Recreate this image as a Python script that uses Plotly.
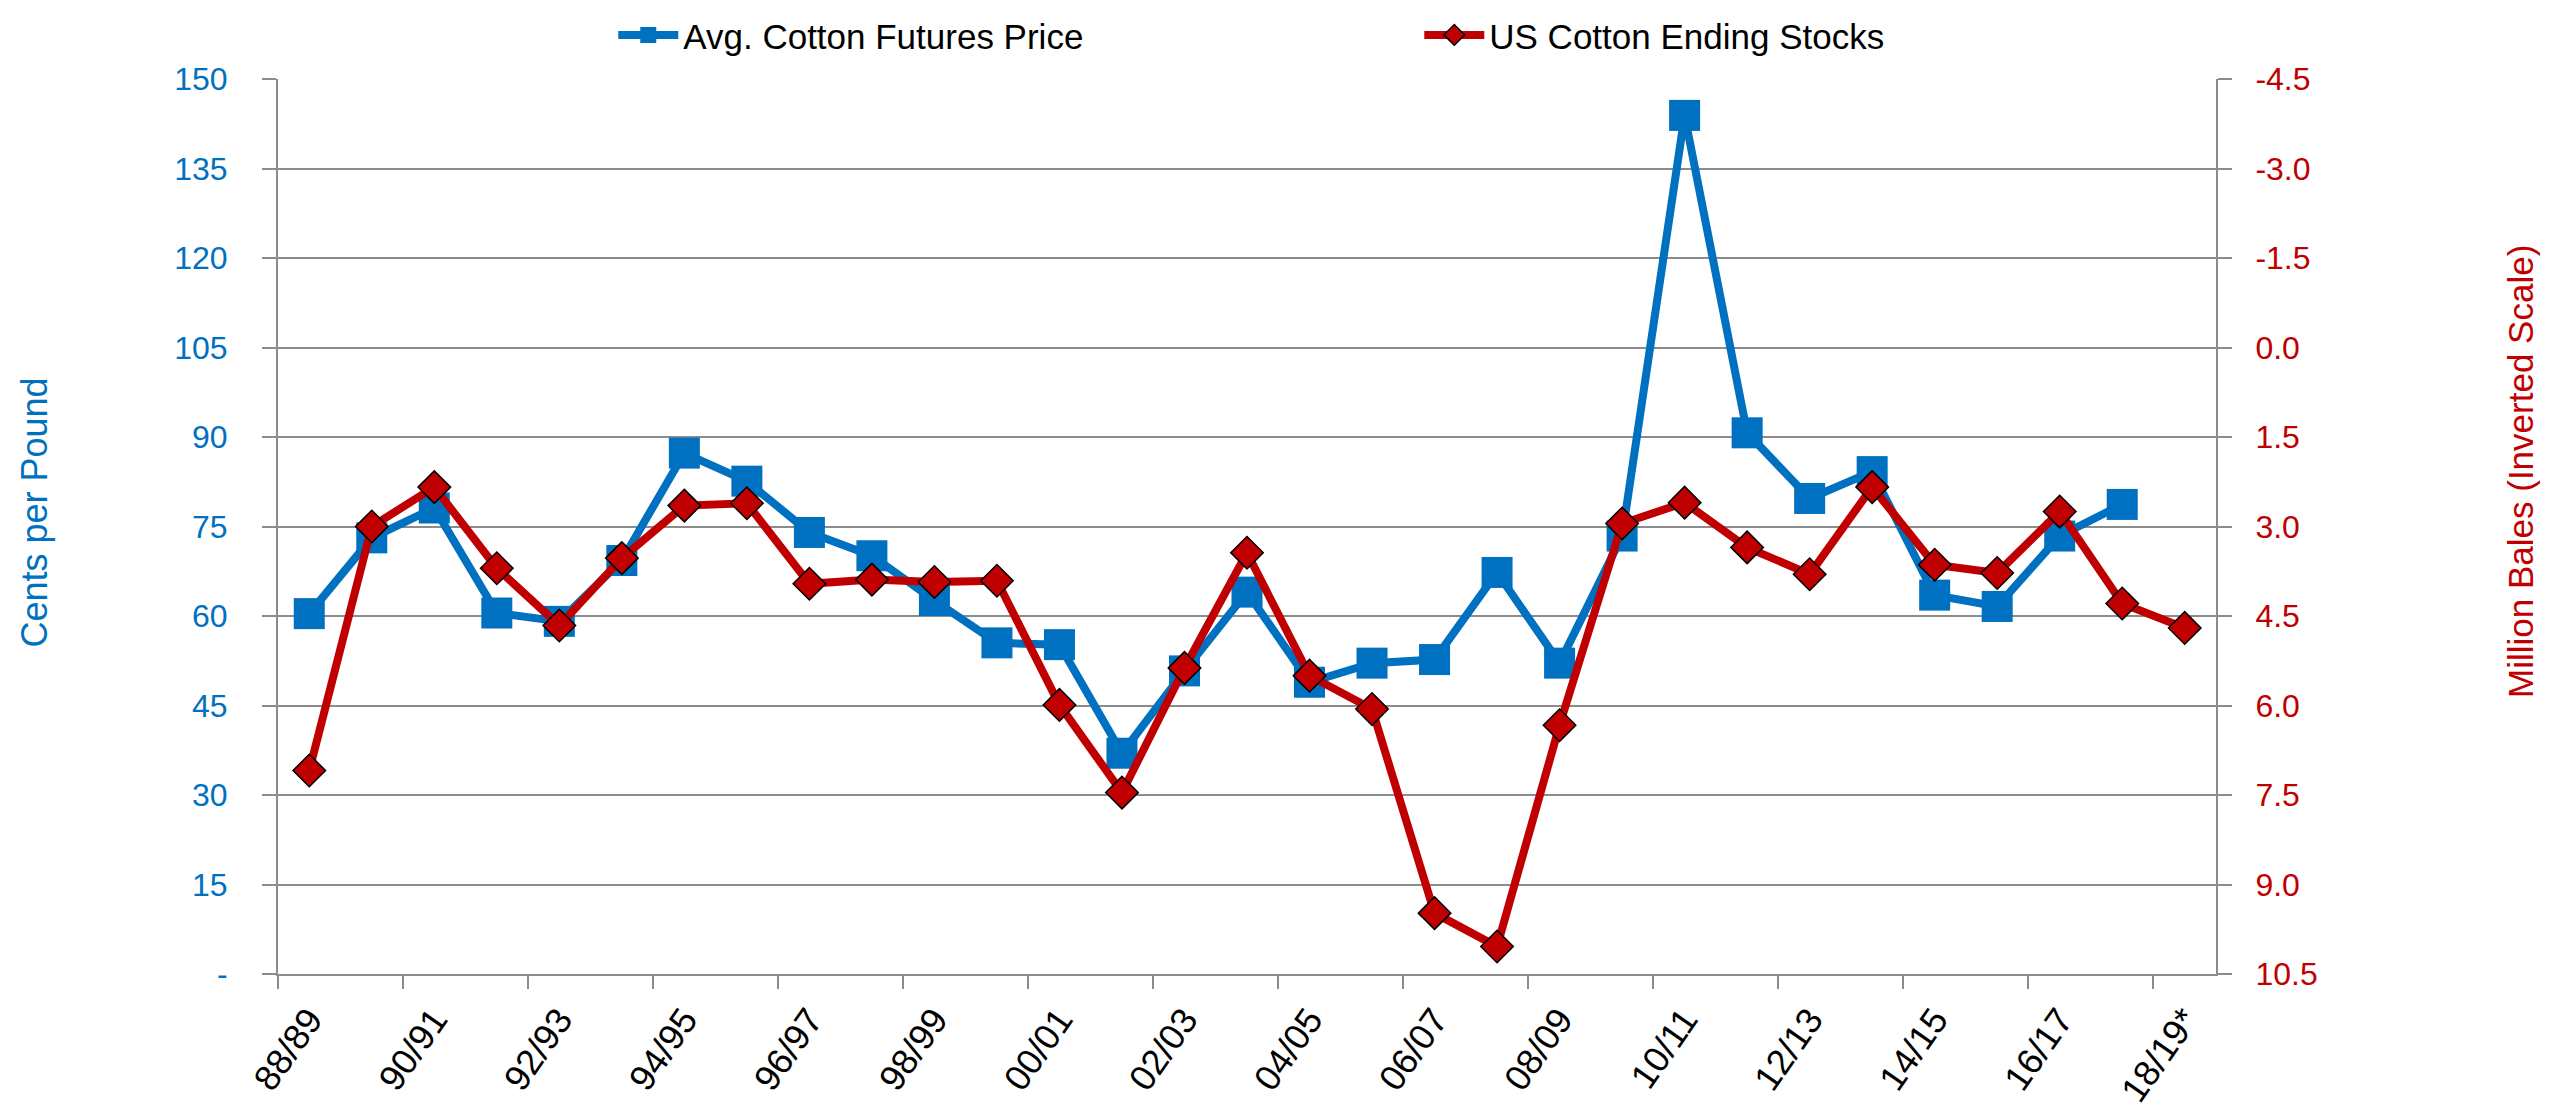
import plotly.graph_objects as go

categories = ["88/89", "89/90", "90/91", "91/92", "92/93", "93/94", "94/95", "95/96",
              "96/97", "97/98", "98/99", "99/00", "00/01", "01/02", "02/03", "03/04",
              "04/05", "05/06", "06/07", "07/08", "08/09", "09/10", "10/11", "11/12",
              "12/13", "13/14", "14/15", "15/16", "16/17", "17/18", "18/19*"]

futures_price = [60.4, 73.1, 78.1, 60.5, 59.1, 69.3, 87.3, 82.6, 74.0, 70.1, 62.6, 55.5,
                 55.2, 37.0, 50.8, 64.0, 48.9, 52.1, 52.7, 67.3, 52.1, 73.4, 143.9, 90.7,
                 79.7, 84.2, 63.5, 61.6, 73.4, 78.7, None]

ending_stocks = [7.09, 3.00, 2.34, 3.70, 4.66, 3.53, 2.65, 2.61, 3.96, 3.89, 3.93, 3.91,
                 5.99, 7.46, 5.37, 3.44, 5.50, 6.06, 9.48, 10.04, 6.33, 2.95, 2.60, 3.35,
                 3.80, 2.34, 3.64, 3.78, 2.75, 4.29, 4.70]

left_ticks = [0, 15, 30, 45, 60, 75, 90, 105, 120, 135, 150]
left_ticktext = ["-", "15", "30", "45", "60", "75", "90", "105", "120", "135", "150"]
right_ticks = [-4.5, -3.0, -1.5, 0.0, 1.5, 3.0, 4.5, 6.0, 7.5, 9.0, 10.5]
right_ticktext = ["-4.5", "-3.0", "-1.5", "0.0", "1.5", "3.0", "4.5", "6.0", "7.5", "9.0", "10.5"]

BLUE = "#0070C0"
RED = "#C00000"
GRAY = "#8C8C8C"
FONT = "Liberation Sans, Arial, sans-serif"

xs = list(range(len(categories)))
label_idx = xs[::2]

fig = go.Figure()
fig.add_trace(go.Scatter(
    x=xs, y=futures_price, name="Avg. Cotton Futures Price", mode="lines+markers",
    line=dict(color=BLUE, width=8),
    marker=dict(symbol="square", size=31, color=BLUE),
    yaxis="y"))
fig.add_trace(go.Scatter(
    x=xs, y=ending_stocks, name="US Cotton Ending Stocks", mode="lines+markers",
    line=dict(color=RED, width=8),
    marker=dict(symbol="diamond", size=25, color=RED, line=dict(color="black", width=1.5)),
    yaxis="y2"))

fig.update_layout(
    width=2560, height=1109,
    paper_bgcolor="white", plot_bgcolor="white",
    margin=dict(l=278, r=344, t=79, b=135, autoexpand=False),
    font=dict(family=FONT, size=32, color="black"),
    showlegend=True,
    legend=dict(orientation="h", x=0.173, y=1.049, xanchor="left", yanchor="middle",
                font=dict(family=FONT, size=35, color="black"),
                entrywidth=731, entrywidthmode="pixels", itemwidth=60,
                bgcolor="rgba(0,0,0,0)"),
    xaxis=dict(
        type="linear", range=[-0.5, len(categories) - 0.5], automargin=False,
        tickmode="array", tickvals=label_idx, ticktext=[categories[i] for i in label_idx],
        ticks="", tickangle=-55, ticklabelstandoff=8,
        tickfont=dict(family=FONT, size=36, color="black"),
        showgrid=False, zeroline=False,
        showline=True, linecolor=GRAY, linewidth=2,
        minor=dict(tickmode="array", tickvals=[i - 0.5 for i in label_idx],
                   ticks="outside", ticklen=13, tickwidth=2, tickcolor=GRAY, showgrid=False),
    ),
    yaxis=dict(
        range=[0, 150], tickmode="array", tickvals=left_ticks, ticktext=left_ticktext,
        automargin=False,
        ticks="outside", ticklen=14, tickwidth=2, tickcolor=GRAY,
        ticklabelstandoff=28,
        tickfont=dict(family=FONT, size=32, color=BLUE),
        showgrid=True, gridcolor=GRAY, gridwidth=2, zeroline=False,
        showline=True, linecolor=GRAY, linewidth=2,
    ),
    yaxis2=dict(
        overlaying="y", side="right", range=[10.5, -4.5], automargin=False,
        tickmode="array", tickvals=right_ticks, ticktext=right_ticktext,
        ticks="outside", ticklen=14, tickwidth=2, tickcolor=GRAY,
        ticklabelstandoff=17,
        tickfont=dict(family=FONT, size=32, color=RED),
        showgrid=False, zeroline=False,
        showline=True, linecolor=GRAY, linewidth=2,
    ),
    annotations=[
        dict(text="Cents per Pound", xref="paper", yref="paper", x=-0.1254, y=0.5155,
             xanchor="center", yanchor="middle", textangle=-90, showarrow=False,
             font=dict(family=FONT, size=36, color=BLUE)),
        dict(text="Million Bales (Inverted Scale)", xref="paper", yref="paper",
             x=1.1574, y=0.561, xanchor="center", yanchor="middle", textangle=-90,
             showarrow=False, font=dict(family=FONT, size=35, color=RED)),
    ],
)

fig.write_html(
    "out.html",
    config={"displayModeBar": False},
    post_script="document.body.style.margin='0';document.body.style.padding='0';"
                "document.body.style.overflow='hidden';",
)
